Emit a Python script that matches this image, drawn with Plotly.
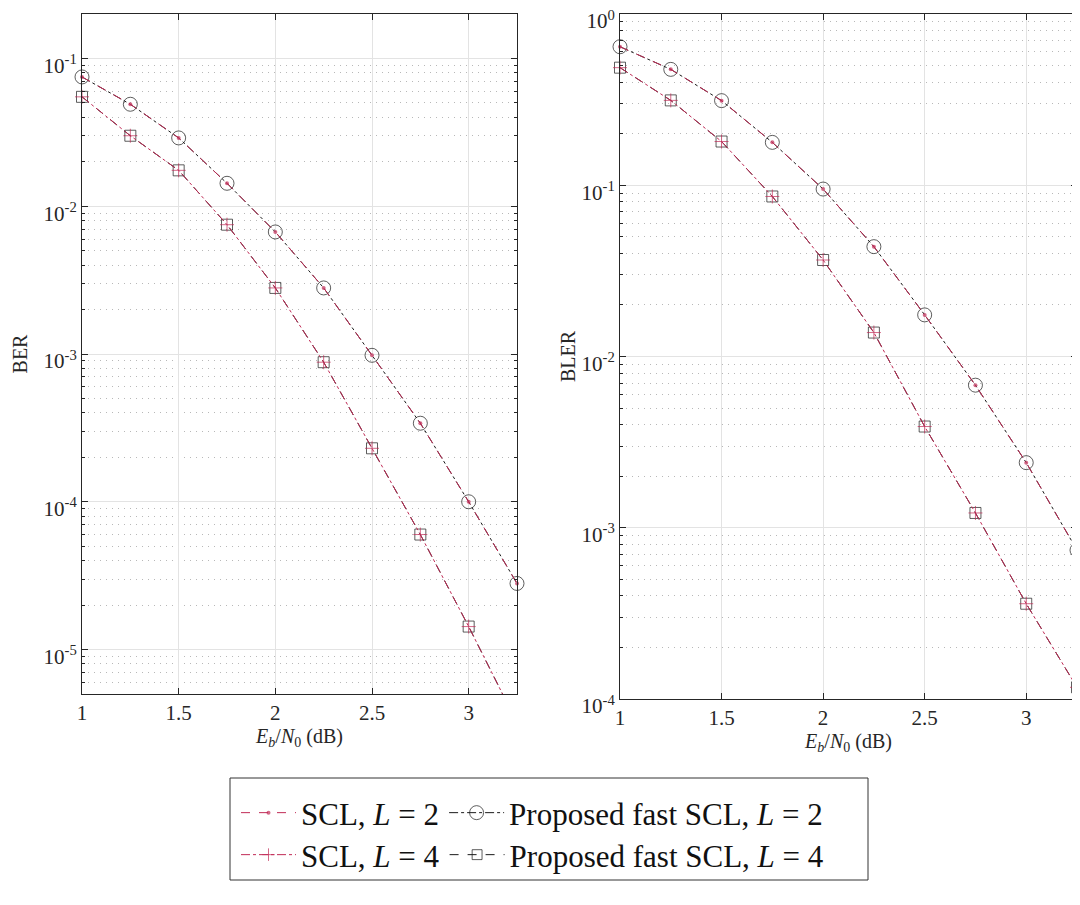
import numpy as np
import plotly.graph_objects as go

# ---------------- data ----------------
ebn0_db = [1.0, 1.25, 1.5, 1.75, 2.0, 2.25, 2.5, 2.75, 3.0, 3.25]

ber_scl_l2 = [0.075, 0.049, 0.029, 0.0143, 0.0067, 0.0028, 0.00098, 0.00034, 0.0001, 2.8e-5]
ber_fast_l2 = [0.075, 0.049, 0.029, 0.0143, 0.0067, 0.0028, 0.00098, 0.00034, 0.0001, 2.8e-5]
ber_scl_l4 = [0.055, 0.030, 0.0175, 0.0075, 0.0028, 0.00088, 0.00023, 6.0e-5, 1.43e-5, 3.2e-6]
ber_fast_l4 = [0.055, 0.030, 0.0175, 0.0075, 0.0028, 0.00088, 0.00023, 6.0e-5, 1.43e-5, 3.2e-6]

bler_scl_l2 = [0.644, 0.475, 0.312, 0.178, 0.095, 0.0438, 0.0175, 0.0068, 0.0024, 7.4e-4]
bler_fast_l2 = [0.644, 0.475, 0.312, 0.178, 0.095, 0.0438, 0.0175, 0.0068, 0.0024, 7.4e-4]
bler_scl_l4 = [0.486, 0.313, 0.18, 0.086, 0.0366, 0.0138, 0.0039, 0.00122, 3.6e-4, 1.17e-4]
bler_fast_l4 = [0.486, 0.313, 0.18, 0.086, 0.0366, 0.0138, 0.0039, 0.00122, 3.6e-4, 1.17e-4]

x_tickvals = [1, 1.5, 2, 2.5, 3]
x_ticktext = ["1", "1.5", "2", "2.5", "3"]
ber_tickvals = [1e-5, 1e-4, 1e-3, 1e-2, 1e-1]
ber_ticktext = ["10<sup>-5</sup>", "10<sup>-4</sup>", "10<sup>-3</sup>", "10<sup>-2</sup>", "10<sup>-1</sup>"]
bler_tickvals = [1e-4, 1e-3, 1e-2, 1e-1, 1]
bler_ticktext = ["10<sup>-4</sup>", "10<sup>-3</sup>", "10<sup>-2</sup>", "10<sup>-1</sup>", "10<sup>0</sup>"]
minor_mantissas = [2, 3, 4, 5, 6, 7, 8, 9]

ber_range = [5e-6, 0.2]
bler_range = [1e-4, 1.0]
x_range = [1, 3.25]

legend_names = {
    "scl2": "SCL, <i>L</i> = 2",
    "fast2": "Proposed fast SCL, <i>L</i> = 2",
    "scl4": "SCL, <i>L</i> = 4",
    "fast4": "Proposed fast SCL, <i>L</i> = 4",
}

# ---------------- style ----------------
RED = "#c02a55"
BLACK = "#1a1a1a"
FONT = "Liberation Serif"

styles = {
    "fast2": dict(line=dict(color=BLACK, width=1, dash="dashdot"),
                  marker=dict(symbol="circle-open", size=14, color=BLACK, line=dict(width=1, color=BLACK))),
    "fast4": dict(line=dict(color=BLACK, width=1, dash="dash"),
                  marker=dict(symbol="square-open", size=11, color=BLACK, line=dict(width=1, color=BLACK))),
    "scl2": dict(line=dict(color=RED, width=1, dash="dash"),
                 marker=dict(symbol="circle", size=4, color=RED, line=dict(width=0))),
    "scl4": dict(line=dict(color=RED, width=1, dash="dashdot"),
                 marker=dict(symbol="cross-thin-open", size=10, color=RED, line=dict(width=1, color=RED))),
}
legend_of = {"scl2": "legend", "fast2": "legend", "scl4": "legend2", "fast4": "legend2"}
rank_of = {"scl2": 1, "fast2": 2, "scl4": 1, "fast4": 2}

fig = go.Figure()


def add_series(key, y, xa, ya, ymin, showlegend):
    st = styles[key]
    y = np.array(y, dtype=float)
    base = st["marker"]["size"]
    sizes = [base if v >= ymin else 0 for v in y]
    mk = dict(st["marker"])
    mk["size"] = sizes
    fig.add_trace(go.Scatter(
        x=ebn0_db, y=y, mode="lines+markers", name=legend_names[key],
        line=st["line"], marker=mk, xaxis=xa, yaxis=ya,
        cliponaxis=False, showlegend=showlegend,
        legend=legend_of[key], legendrank=rank_of[key]))


# left plot (BER)
add_series("fast2", ber_fast_l2, "x", "y", ber_range[0], True)
add_series("fast4", ber_fast_l4, "x", "y", ber_range[0], True)
add_series("scl2", ber_scl_l2, "x", "y", ber_range[0], True)
add_series("scl4", ber_scl_l4, "x", "y", ber_range[0], True)
# right plot (BLER)
add_series("fast2", bler_fast_l2, "x2", "y2", bler_range[0], False)
add_series("fast4", bler_fast_l4, "x2", "y2", bler_range[0], False)
add_series("scl2", bler_scl_l2, "x2", "y2", bler_range[0], False)
add_series("scl4", bler_scl_l4, "x2", "y2", bler_range[0], False)


def minor_vals(lo, hi):
    vals = []
    for e in range(int(np.floor(np.log10(lo))) - 1, int(np.ceil(np.log10(hi))) + 1):
        for m in minor_mantissas:
            v = m * 10.0 ** e
            if lo <= v <= hi:
                vals.append(v)
    return vals


W, H = 1080, 905
OFF = 8  # page body margin of the browser
tickfont = dict(family=FONT, size=21, color="#262626")
titlefont = dict(family=FONT, size=20, color="#262626")
legfont = dict(family=FONT, size=31, color="#111111")


def px_x(p):
    return (p - OFF) / W


def px_y(p):
    return (H - (p - OFF)) / H


common_x = dict(
    range=x_range, tickvals=x_tickvals, ticktext=x_ticktext, automargin=False,
    showline=True, linecolor="#262626", linewidth=1, mirror="ticks",
    ticks="inside", ticklen=6, tickcolor="#262626", ticklabeloverflow="allow",
    showgrid=True, gridcolor="#e3e3e3", gridwidth=1, zeroline=False,
    tickfont=tickfont,
    title=dict(text="<i>E</i><sub><i>b</i></sub>/<i>N</i><sub>0</sub> (dB)", font=titlefont, standoff=4),
)


def y_axis(rng, tv, tt, title, dom, standoff):
    return dict(
        type="log", automargin=False, domain=dom,
        range=[np.log10(rng[0]), np.log10(rng[1])],
        tickvals=tv, ticktext=tt, ticklabeloverflow="allow", ticklabelshift=7,
        showline=True, linecolor="#262626", linewidth=1, mirror="ticks",
        ticks="inside", ticklen=6, tickcolor="#262626",
        showgrid=True, gridcolor="#e3e3e3", gridwidth=1, zeroline=False,
        tickfont=tickfont,
        minor=dict(tickvals=minor_vals(rng[0], rng[1]), ticks="inside", ticklen=3,
                   tickcolor="#262626", showgrid=True,
                   gridcolor="#b8b8b8", griddash="1px,5px", gridwidth=1),
        title=dict(text=title, font=titlefont, standoff=standoff),
    )


fig.update_layout(
    width=W, height=H,
    font=dict(family=FONT, color="#262626"),
    margin=dict(l=0, r=0, t=0, b=0, pad=0, autoexpand=False),
    paper_bgcolor="white", plot_bgcolor="white",
    xaxis=dict(domain=[px_x(82), px_x(517)], anchor="y", **common_x),
    yaxis=dict(anchor="x", **y_axis(ber_range, ber_tickvals, ber_ticktext, "BER",
                                    [px_y(694), px_y(14)], 10)),
    xaxis2=dict(domain=[px_x(620), px_x(1077)], anchor="y2", **common_x),
    yaxis2=dict(anchor="x2", **y_axis(bler_range, bler_tickvals, bler_ticktext, "BLER",
                                      [px_y(699), px_y(14)], 0)),
    legend=dict(orientation="h", x=px_x(236), xanchor="left", y=px_y(813), yanchor="middle",
                bgcolor="rgba(0,0,0,0)", borderwidth=0, itemwidth=55,
                font=legfont, traceorder="normal"),
    legend2=dict(orientation="h", x=px_x(236), xanchor="left", y=px_y(855), yanchor="middle",
                 bgcolor="rgba(0,0,0,0)", borderwidth=0, itemwidth=55,
                 font=legfont, traceorder="normal"),
    shapes=[dict(type="rect", xref="paper", yref="paper",
                 x0=px_x(230), x1=px_x(868), y0=px_y(880), y1=px_y(778),
                 line=dict(color="#333333", width=1), fillcolor="rgba(0,0,0,0)")],
)

fig.write_html("out.html")
